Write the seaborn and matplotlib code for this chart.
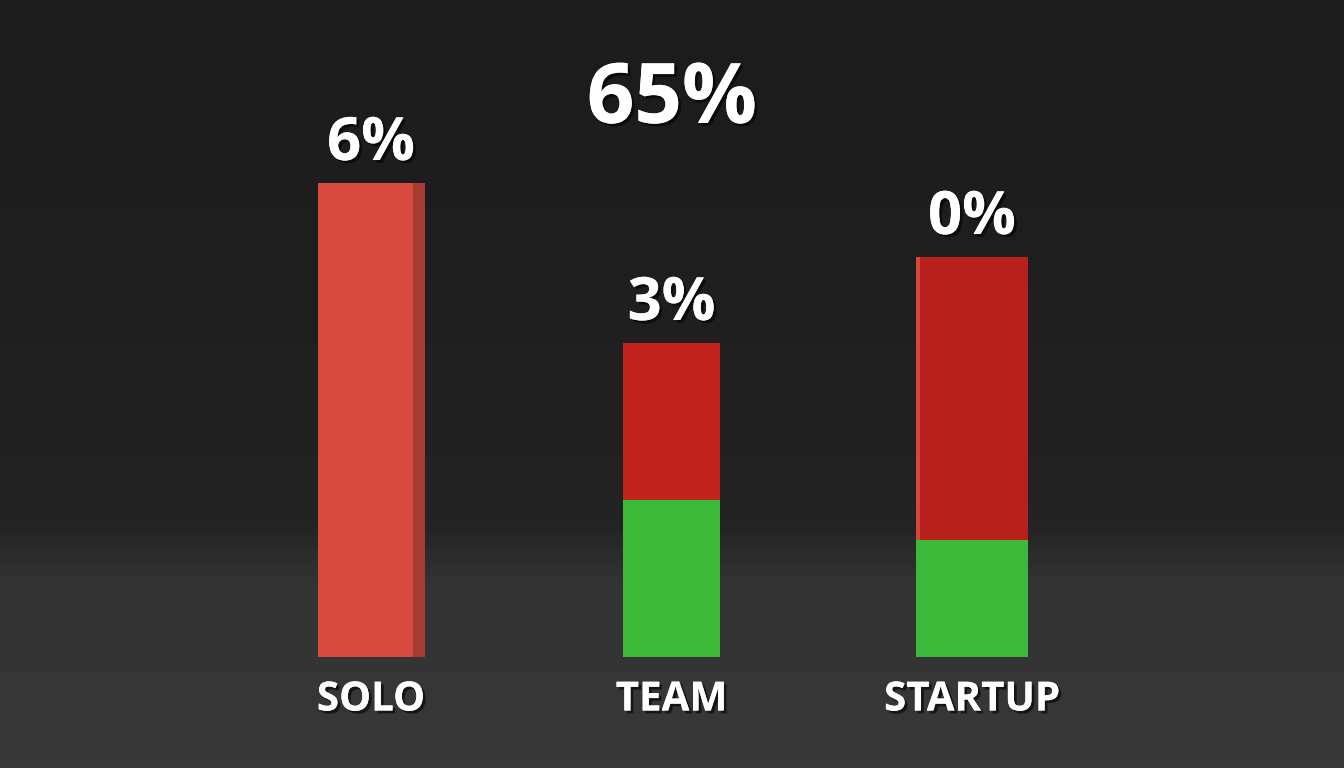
import numpy as np
import pandas as pd
import matplotlib
matplotlib.use("Agg")
import matplotlib.pyplot as plt
import matplotlib.patheffects as pe
import seaborn as sns

# DATA (bar heights in arbitrary units)
categories = ["SOLO", "TEAM", "STARTUP"]
green_part = [0.0, 31.4, 23.4]
red_part = [94.8, 31.4, 56.6]
bar_labels = ["6%", "3%", "0%"]
headline = "65%"

totals = [g + r for g, r in zip(green_part, red_part)]
df = pd.DataFrame({"category": categories, "green": green_part,
                   "total": totals})

sns.set_theme(style="dark")
plt.rcParams["font.family"] = ["Open Sans", "DejaVu Sans"]

fig = plt.figure(figsize=(13.44, 7.68), dpi=100)
ax = fig.add_axes([0, 0, 1, 1])

# background: dark gradient, lighter floor towards the bottom
h = 768
t = np.linspace(0, 1, h)
vals = 0.11 + 0.05 * t ** 1.5
vals = vals + 0.06 * np.clip((t - 0.68) / 0.08, 0, 1)
img = np.repeat(vals[:, None], 2, axis=1)
ax.imshow(img, cmap="gray", vmin=0, vmax=1, aspect="auto",
          extent=(0, 1, 0, 1), transform=ax.transAxes, zorder=0,
          origin="upper")

# red bars (full height) then green base on top
red_colors = ["#d64a40", "#c2231f", "#b8201d"]
sns.barplot(data=df, x="category", y="total", hue="category",
            palette=red_colors, width=0.34, ax=ax, legend=False,
            saturation=1, zorder=2, edgecolor="none", linewidth=0)
sns.barplot(data=df, x="category", y="green", color="#3db93a",
            width=0.34, ax=ax, saturation=1, zorder=3,
            edgecolor="none", linewidth=0)

# slightly different bar widths, as in the picture
bar_widths = [0.356, 0.32, 0.37]
for k, p in enumerate(ax.patches):
    i = k % 3
    c = p.get_x() + p.get_width() / 2
    p.set_width(bar_widths[i])
    p.set_x(c - bar_widths[i] / 2)

# darker side face on the SOLO bar, light left edge on STARTUP
solo = ax.patches[0]
x0 = solo.get_x() + solo.get_width()
col = np.array(matplotlib.colors.to_rgb(solo.get_facecolor())) * 0.78
ax.fill_between([x0 - 0.04, x0], 0, solo.get_height(), color=col,
                zorder=2.1, linewidth=0)
start = ax.patches[2]
ax.fill_between([start.get_x(), start.get_x() + 0.012], 23.4,
                start.get_height(), color="#d8453c", zorder=2.1, linewidth=0)

ax.set_xlim(-1.235, 3.238)
ax.set_ylim(-22.2, 131.4)
ax.set_axis_off()

shadow = [pe.withSimplePatchShadow(offset=(2, -2), shadow_rgbFace="black",
                                   alpha=0.6), pe.Normal()]

for i, (tot, lab) in enumerate(zip(totals, bar_labels)):
    ax.text(i, tot + 1.6, lab, ha="center", va="bottom", color="white",
            fontsize=43, fontweight="bold", zorder=5, path_effects=shadow)
    ax.text(i, -8.6, categories[i], ha="center", va="center", color="white",
            fontsize=29, fontweight="bold", zorder=5, path_effects=shadow)

ax.text(0.5, 0.868, headline, transform=ax.transAxes, ha="center",
        va="center", color="white", fontsize=60, fontweight="bold",
        zorder=5, path_effects=shadow)

fig.savefig("out.png", dpi=100)
